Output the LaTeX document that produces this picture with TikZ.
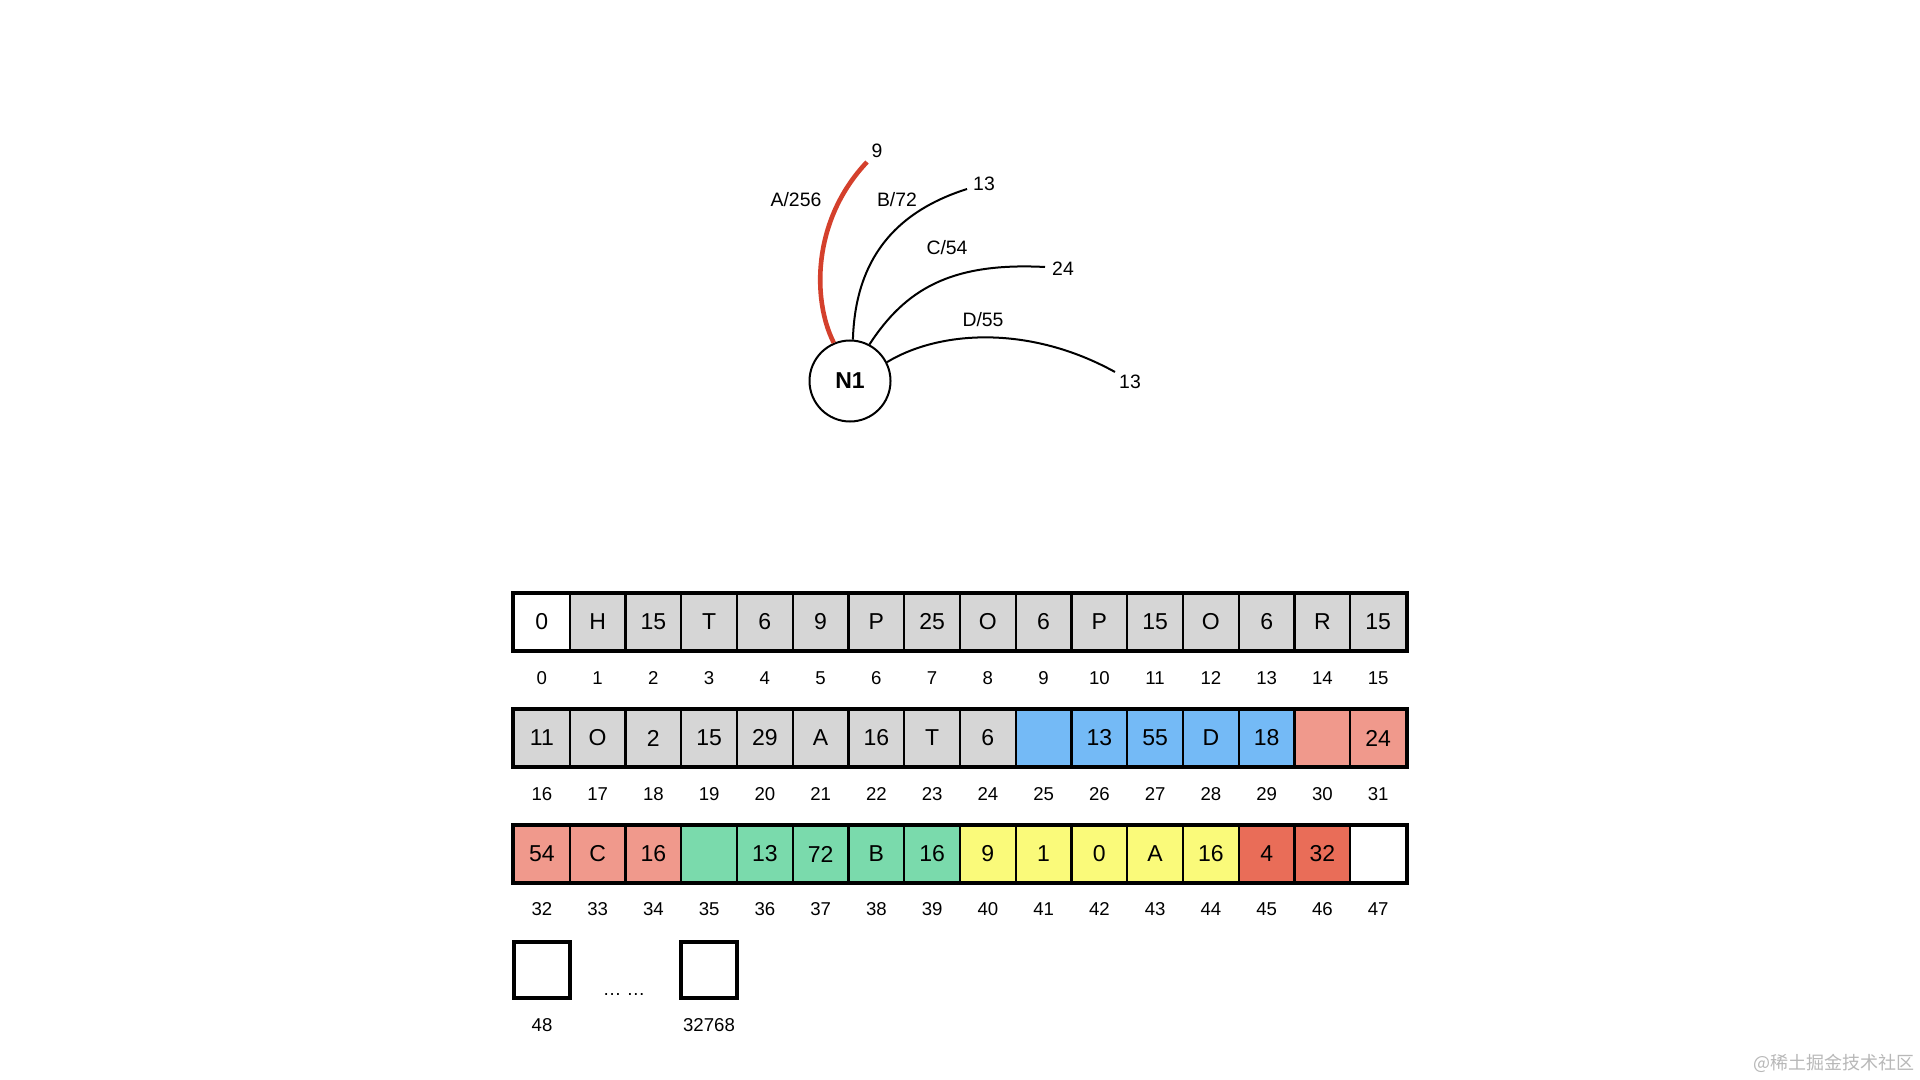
\documentclass[tikz,border=0pt]{standalone}
\usepackage{fontspec}
\setmainfont{Liberation Sans}
\newfontfamily\cjkfont{Noto Sans CJK SC}
\definecolor{gry}{RGB}{214,214,214}
\definecolor{blu}{RGB}{116,186,246}
\definecolor{sal}{RGB}{240,153,140}
\definecolor{grn}{RGB}{122,218,172}
\definecolor{yel}{RGB}{250,250,122}
\definecolor{org}{RGB}{233,109,88}
\definecolor{redA}{RGB}{212,64,44}
\begin{document}
\begin{tikzpicture}[x=0.5pt,y=-0.5pt,
  cell/.style={draw=black,line width=1.2pt,minimum width=27.875pt,minimum height=28pt,inner sep=0pt,font=\fontsize{11.5}{13}\selectfont},
  idx/.style={font=\fontsize{9.3}{11}\selectfont,inner sep=0pt},
  lbl/.style={font=\fontsize{9.7}{11}\selectfont,inner sep=0pt},
  link/.style={line width=1pt},
  hot/.style={line width=2.3pt,draw=redA}]
\path[use as bounding box,fill=white] (0,0) rectangle (1920,1080);

% graph
\node[draw,circle,line width=1pt,minimum size=40.5pt,inner sep=0pt,font=\bfseries\fontsize{11.5}{13}\selectfont] (n1) at (850,381) {N1};
\coordinate (ea) at (867,162);
\coordinate (eb) at (967,189);
\coordinate (ec) at (1045,267);
\coordinate (ed) at (1115,372);
\draw[hot] (n1.113) .. controls (812,300) and (812,220) .. (ea);
\draw[link] (n1.86) .. controls (855,270) and (885,215) .. (eb);
\draw[link] (n1.62) .. controls (905,290) and (950,262) .. (ec);
\draw[link] (n1.27) .. controls (940,330) and (1030,325) .. (ed);
\node[lbl] (ta) at (877,151) {9};
\node[lbl] (tb) at (984,184) {13};
\node[lbl] (tc) at (1063,269) {24};
\node[lbl] (td) at (1130,382) {13};
\node[lbl] (la) at (796,200) {A/256};
\node[lbl] (lb) at (897,200) {B/72};
\node[lbl] (lc) at (947,248) {C/54};
\node[lbl] (ld) at (983,320) {D/55};

% row 0
\foreach \t/\c [count=\i from 0] in {0/white,H/gry,15/gry,T/gry,6/gry,9/gry,P/gry,25/gry,O/gry,6/gry,P/gry,15/gry,O/gry,6/gry,R/gry,15/gry}{
  \node[cell,fill=\c] (c\i) at ({514+(\i+0.5)*55.75},622) {\t};
  \node[idx] (l\i) at ({514+(\i+0.5)*55.75},678) {\i};
}
\draw[line width=1.7pt] (c0.north west) rectangle (c15.south east);
% row 1
\foreach \t/\c [count=\i from 16] in {11/gry,O/gry,2/gry,15/gry,29/gry,A/gry,16/gry,T/gry,6/gry,{}/blu,13/blu,55/blu,D/blu,18/blu,{}/sal,24/sal}{
  \node[cell,fill=\c] (c\i) at ({514+(\i-16+0.5)*55.75},738) {\t};
  \node[idx] (l\i) at ({514+(\i-16+0.5)*55.75},794) {\i};
}
\draw[line width=1.7pt] (c16.north west) rectangle (c31.south east);
% row 2
\foreach \t/\c [count=\i from 32] in {54/sal,C/sal,16/sal,{}/grn,13/grn,72/grn,B/grn,16/grn,9/yel,1/yel,0/yel,A/yel,16/yel,4/org,32/org,{}/white}{
  \node[cell,fill=\c] (c\i) at ({514+(\i-32+0.5)*55.75},854) {\t};
  \node[idx] (l\i) at ({514+(\i-32+0.5)*55.75},909) {\i};
}
\draw[line width=1.7pt] (c32.north west) rectangle (c47.south east);
% row 3
\node[cell,line width=1.7pt,fill=white] (c48) at (542,970) {};
\node[idx] (l48) at (542,1025) {48};
\node[cell,line width=1.7pt,fill=white] (cz) at (709,970) {};
\node[idx] (lz) at (709,1025) {32768};
\node[idx] (dots) at (624,994) {… …};

% watermark
\node[inner sep=0pt,text=black!28,font=\cjkfont\fontsize{9}{11}\selectfont] (wm) at (1834,1063) {@稀土掘金技术社区};
\end{tikzpicture}
\end{document}
